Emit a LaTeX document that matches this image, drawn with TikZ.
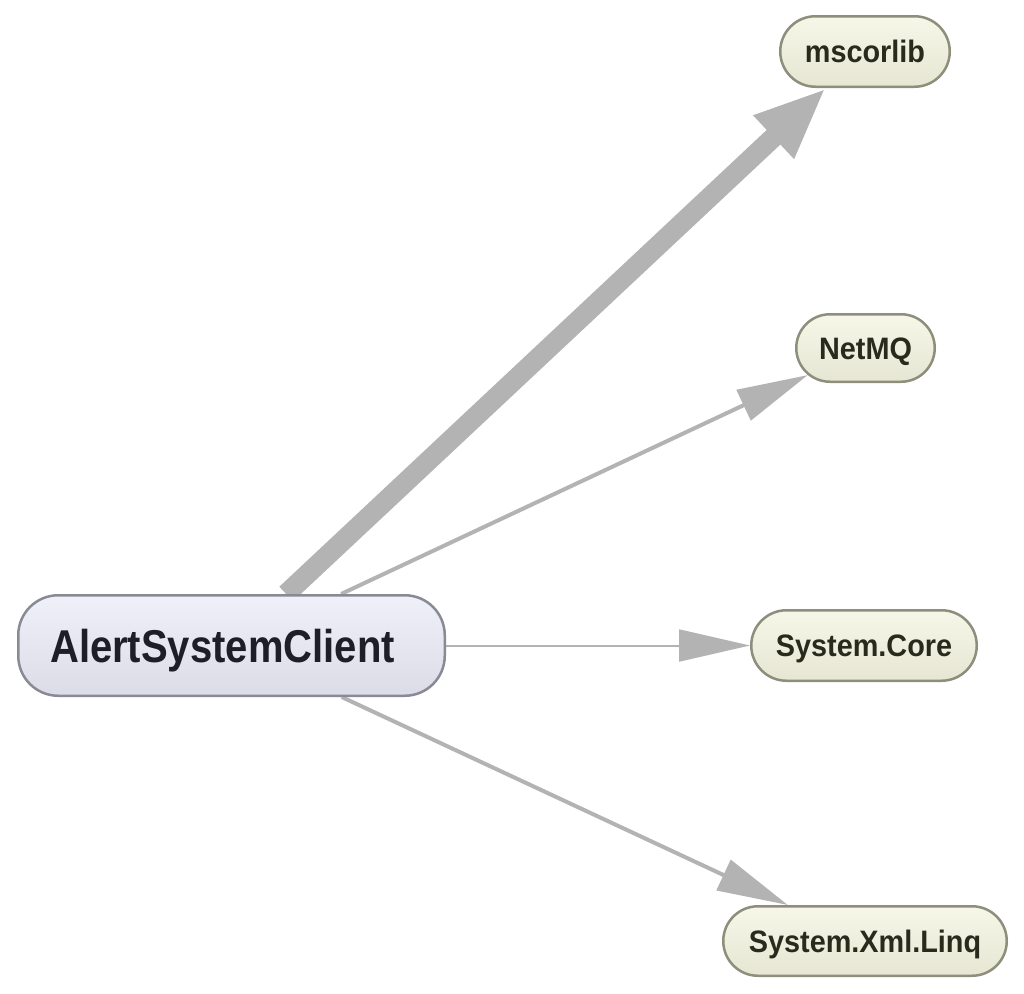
\documentclass[tikz,border=0pt]{standalone}
\usepackage{fontspec}
\setmainfont{Liberation Sans}
\newfontfamily\bigfont{Liberation Sans}[FakeStretch=0.87]
\newfontfamily\smallfont{Liberation Sans}[FakeStretch=0.93]
\usetikzlibrary{shapes.misc,arrows.meta}
\definecolor{edgecol}{HTML}{B3B3B3}
\definecolor{mainfillA}{HTML}{F0F0F9}
\definecolor{mainfillB}{HTML}{DCDCE8}
\definecolor{mainborder}{HTML}{8A8A96}
\definecolor{depfillA}{HTML}{F7F7E9}
\definecolor{depfillB}{HTML}{E6E6D3}
\definecolor{depborder}{HTML}{8E8E7C}
\definecolor{maintext}{HTML}{1E1E28}
\definecolor{deptext}{HTML}{2A2A1C}
\pgfdeclarelayer{background}
\pgfsetlayers{background,main}
\tikzset{
  mainnode/.style={rectangle, rounded corners=40pt, draw=mainborder, line width=2.5pt,
    top color=mainfillA, bottom color=mainfillB, minimum width=426.5pt, minimum height=100.5pt,
    inner sep=0pt, text=maintext, font=\bigfont\bfseries\fontsize{46pt}{50pt}\selectfont,
    text height=33pt, text depth=0pt},
  depnode/.style={rounded rectangle, draw=depborder, line width=2.5pt,
    top color=depfillA, bottom color=depfillB, minimum height=70.5pt,
    inner sep=0pt, text=deptext, font=\smallfont\bfseries\fontsize{31pt}{34pt}\selectfont,
    text height=22pt, text depth=0pt},
  dep/.style={draw=edgecol, line width=4pt, -{Triangle[length=71pt,width=33pt]}},
  depthin/.style={draw=edgecol, line width=2pt, -{Triangle[length=71pt,width=32pt]}},
  depthick/.style={draw=edgecol, line width=20pt, -{Triangle[length=72pt,width=54pt]}},
}
\begin{document}
\begin{tikzpicture}[x=1pt,y=-1pt]
\useasboundingbox (0,0) rectangle (1024,993);
\node[mainnode] (asc) at (231.5,645.5) {AlertSystemClient\hspace*{18pt}};
\node[depnode, minimum width=169.5pt] (mscorlib) at (865,51.5) {mscorlib};
\node[depnode, minimum width=138.5pt, minimum height=67.5pt] (netmq) at (865.5,348) {NetMQ};
\node[depnode, minimum width=225.5pt] (core) at (864,645.5) {System.Core};
\node[depnode, minimum width=283.5pt, minimum height=69.5pt] (xml) at (865,941) {System.Xml.Linq};
\begin{pgfonlayer}{background}
\draw[depthick] (asc) -- (mscorlib);
\draw[dep] (asc) -- (netmq);
\draw[depthin] (asc) -- (core);
\draw[dep] (asc) -- (xml);
\end{pgfonlayer}
\end{tikzpicture}
\end{document}
